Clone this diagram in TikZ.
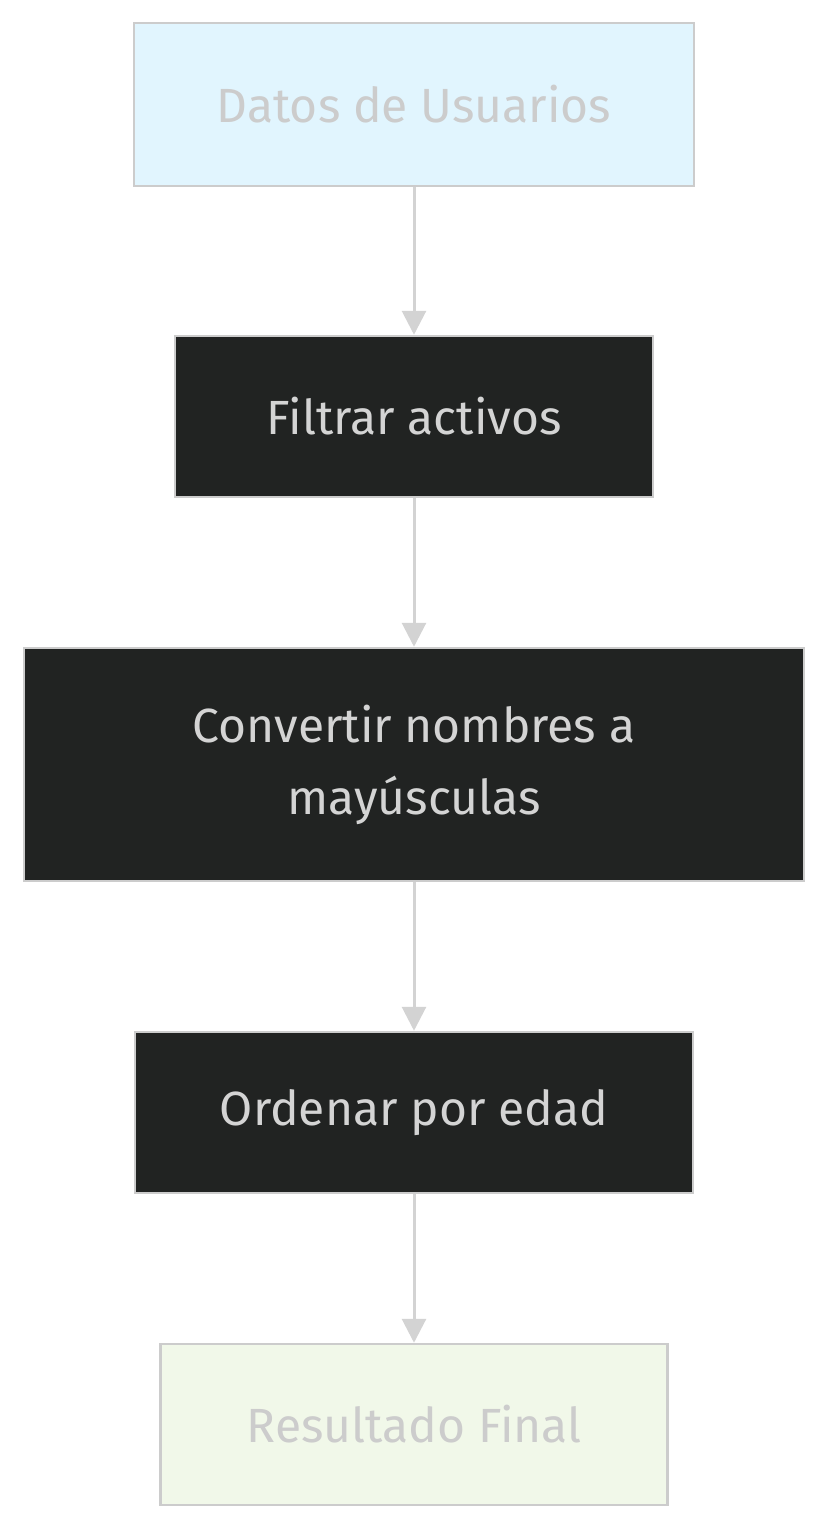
\documentclass[tikz,border=0pt]{standalone}
\usepackage{fontspec}
\setmainfont{Fira Sans}
\usetikzlibrary{arrows.meta}
\definecolor{bord}{HTML}{CCCCCC}
\definecolor{txt}{HTML}{CCCCCC}
\definecolor{dtxt}{HTML}{D4D4D4}
\definecolor{dark}{HTML}{212322}
\definecolor{lblue}{HTML}{E1F5FE}
\definecolor{lgreen}{HTML}{F1F8E9}
\definecolor{arr}{HTML}{D3D3D3}
\tikzset{
  box/.style={draw=bord, line width=2.5pt, rectangle, inner sep=0pt, align=center,
    font=\fontsize{48}{72}\selectfont},
  lightbox/.style={box, text=txt},
  darkbox/.style={box, fill=dark, text=dtxt},
  flow/.style={draw=arr, line width=3pt, -{Triangle[width=24pt,length=24pt]}, shorten >=0pt},
}
\begin{document}
\begin{tikzpicture}[x=1pt,y=-1pt]
\useasboundingbox (0,0) rectangle (828,1530);
\node[lightbox, fill=lblue, minimum width=560pt, minimum height=163pt] (a) at (414,104.5) {Datos de Usuarios};
\node[darkbox, minimum width=478pt, minimum height=161pt] (b) at (414,416.5) {Filtrar activos};
\node[darkbox, minimum width=780pt, minimum height=233pt] (c) at (414,764.5) {Convertir nombres a\\mayúsculas};
\node[darkbox, minimum width=558pt, minimum height=161pt] (d) at (414,1112.5) {Ordenar por edad};
\node[lightbox, fill=lgreen, minimum width=507pt, minimum height=161pt] (e) at (414,1424.5) {Resultado Final};
\draw[flow] (a) -- (b);
\draw[flow] (b) -- (c);
\draw[flow] (c) -- (d);
\draw[flow] (d) -- (e);
\end{tikzpicture}
\end{document}
